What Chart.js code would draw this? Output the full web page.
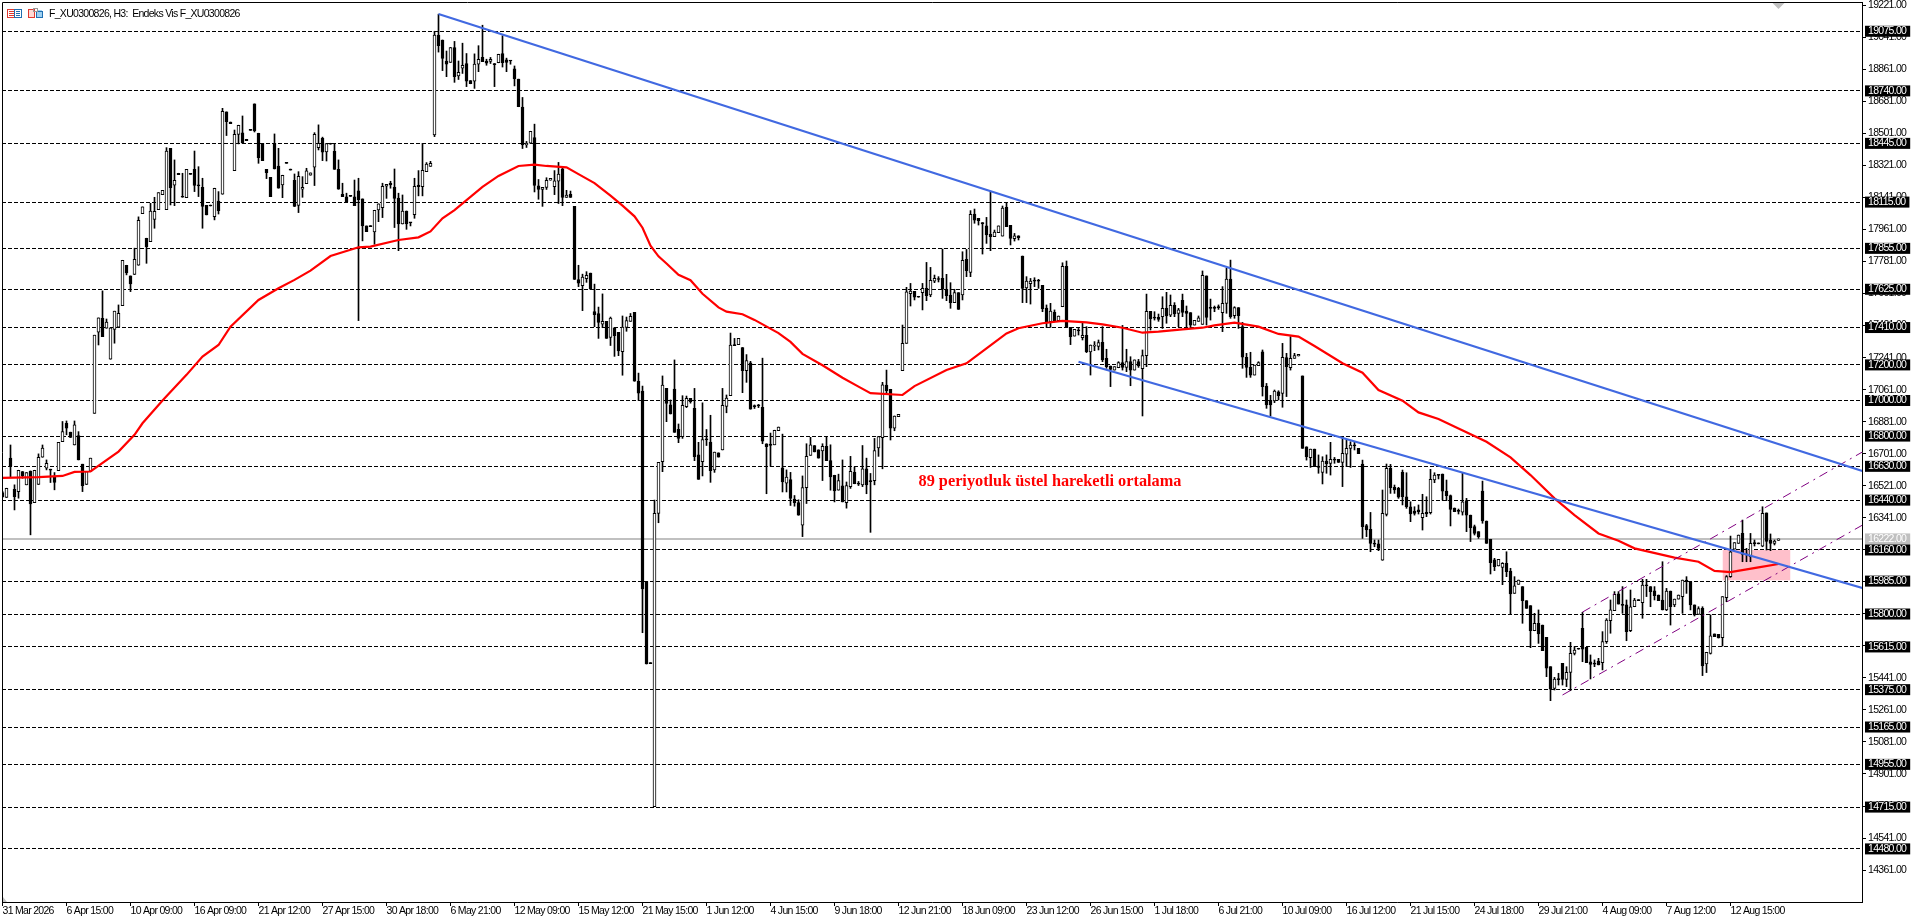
<!DOCTYPE html>
<html><head><meta charset="utf-8">
<style>html,body{margin:0;padding:0;background:#fff;overflow:hidden}canvas{display:block}</style>
<script src="https://cdn.jsdelivr.net/npm/chart.js@4/dist/chart.umd.min.js"></script>
</head><body><canvas id="c" width="1920" height="923"></canvas>
<script>
const opens=[
16483,16455,16676,16501,16488,16601,16526,16604,16426,16528,
16681,16619,16614,16573,16606,16769,16872,16822,16750,16803,
16642,16528,16601,16928,17384,17462,17406,17232,17400,17412,
17533,17760,17700,17708,17760,18050,17912,17893,18017,18073,
18157,18073,18417,18210,18277,18142,18140,18275,18299,18208,
18198,18097,18097,18033,18120,18159,18622,18565,18292,18496,
18504,18468,18522,18667,18502,18445,18299,18254,18445,18318,
18211,18337,18299,18238,18097,18187,18219,18266,18311,18421,
18474,18397,18445,18400,18299,18159,18144,18149,18144,18178,
18133,17981,17979,17947,18071,18084,18204,18221,18200,18138,
17992,18065,18000,18045,18210,18202,18286,18316,18493,19053,
19026,18908,18900,18984,18824,18868,18894,18798,18794,18890,
18928,18908,18906,18890,18898,18950,18914,18910,18864,18806,
18649,18436,18446,18478,18206,18186,18198,18238,18202,18232,
18302,18141,18159,18091,17680,17646,17684,17716,17499,17489,
17429,17445,17355,17409,17383,17274,17411,17445,17495,17108,
17053,15982,15525,14718,16366,16656,17068,16975,17064,16838,
16797,16965,17012,16956,16694,16656,16781,16767,16610,16706,
16722,16967,17027,17310,17314,17298,17168,17212,16968,16972,
16961,16757,16755,16751,16831,16622,16536,16556,16446,16426,
16299,16510,16692,16747,16723,16717,16743,16662,16580,16496,
16520,16426,16516,16596,16536,16526,16616,16546,16550,16733,
16791,17087,17063,16844,16909,17168,17321,17600,17613,17585,
17606,17630,17593,17671,17682,17686,17625,17593,17550,17606,
17593,17793,17720,18048,18024,18000,17981,17934,17921,17943,
17924,18085,17984,17909,17926,17812,17632,17657,17673,17673,
17647,17520,17443,17495,17449,17527,17754,17411,17362,17393,
17353,17366,17273,17306,17304,17327,17237,17194,17171,17184,
17213,17186,17218,17171,17218,17179,17252,17501,17465,17467,
17471,17518,17479,17535,17490,17563,17503,17494,17424,17445,
17428,17700,17520,17520,17524,17494,17546,17683,17477,17522,
17415,17243,17186,17143,17196,17273,17081,17000,16997,17048,
17040,17241,17184,17237,17250,17138,16740,16679,16727,16632,
16596,16660,16647,16667,16669,16652,16699,16731,16747,16731,
16643,16297,16276,16194,16194,16102,16360,16619,16512,16506,
16596,16459,16403,16379,16385,16341,16371,16370,16553,16581,
16587,16491,16465,16396,16379,16373,16437,16356,16291,16263,
16491,16323,16220,16104,16070,16062,16085,16042,15916,15967,
15954,15875,15847,15706,15748,15738,15669,15504,15382,15433,
15523,15433,15472,15579,15604,15720,15613,15532,15520,15536,
15527,15645,15763,15819,15913,15851,15851,15706,15841,15877,
15864,15961,15954,15931,15907,15879,15823,15929,15851,15884,
15898,15991,15980,15851,15798,15832,15519,15579,15688,15686,
15667,15892,16010,16165,16197,16253,16132,16122,16198,16198,
16182,16368,16216,16197,16214];
const highs=[
16490,16507,16750,16526,16608,16601,16595,16604,16608,16700,
16750,16666,16614,16595,16765,16882,16885,16822,16885,16825,
16642,16601,16676,17367,17464,17616,17458,17408,17502,17537,
17788,17760,17700,17856,18032,18088,17912,18108,18142,18168,
18181,18421,18417,18352,18277,18277,18299,18275,18402,18314,
18249,18097,18097,18193,18174,18642,18622,18565,18520,18547,
18599,18468,18522,18667,18502,18445,18299,18254,18498,18417,
18266,18337,18299,18273,18286,18258,18305,18279,18505,18549,
18480,18444,18445,18445,18352,18221,18165,18149,18239,18249,
18133,17981,17979,18069,18105,18221,18215,18232,18301,18165,
18155,18065,18000,18249,18292,18445,18337,18344,19075,19171,
19026,18964,18984,19018,18908,19008,18950,18798,18948,18994,
19109,18918,18928,18894,18946,19050,18924,18910,18880,18806,
18703,18456,18513,18553,18242,18198,18252,18248,18292,18338,
18312,18181,18177,18091,17760,17710,17724,17716,17654,17525,
17599,17445,17469,17409,17383,17475,17469,17489,17495,17154,
17081,15982,15525,16441,16652,17138,17068,17003,17228,16868,
17027,17025,17012,17068,16765,16987,16837,16917,16710,16706,
17068,17031,17379,17349,17349,17298,17258,17220,16975,16978,
17238,16757,16817,16833,16851,16811,16610,16596,16466,16442,
16576,16757,16793,16747,16723,16757,16797,16751,16580,16586,
16666,16542,16686,16626,16545,16747,16676,16590,16787,16797,
17102,17171,17063,16913,16922,17424,17636,17658,17613,17585,
17658,17776,17748,17705,17696,17851,17709,17662,17625,17606,
17836,17849,18067,18076,18024,18000,18029,18173,17958,17981,
18093,18112,17984,17939,17926,17812,17696,17686,17690,17681,
17647,17537,17546,17509,17475,17774,17784,17411,17400,17405,
17434,17415,17312,17331,17340,17415,17288,17194,17190,17218,
17422,17288,17246,17228,17231,17284,17598,17501,17499,17486,
17583,17608,17593,17550,17518,17598,17531,17494,17450,17475,
17728,17700,17570,17531,17537,17640,17743,17789,17527,17522,
17439,17265,17271,17199,17218,17284,17096,17029,17059,17055,
17321,17265,17359,17265,17259,17138,16740,16727,16727,16694,
16684,16694,16765,16680,16669,16797,16778,16768,16768,16731,
16665,16304,16371,16216,16216,16497,16643,16641,16525,16512,
16609,16594,16431,16403,16413,16473,16459,16613,16594,16581,
16587,16553,16469,16396,16390,16591,16450,16356,16300,16263,
16547,16323,16220,16113,16107,16089,16150,16057,16010,15991,
15954,15875,15847,15804,15823,15738,15669,15504,15444,15467,
15523,15504,15641,15617,15604,15810,15613,15570,15542,15551,
15701,15774,15879,15926,15926,15954,15879,15935,15888,15877,
15995,15995,15954,15954,15907,16094,15944,15929,15884,15907,
15991,16010,15980,15851,15841,15841,15585,15795,15688,15686,
15898,16016,16238,16201,16244,16328,16169,16253,16216,16198,
16403,16368,16250,16216,16222];
const lows=[
16455,16455,16572,16385,16451,16563,16526,16245,16426,16528,
16681,16610,16539,16498,16606,16769,16807,16792,16750,16666,
16488,16528,16601,16928,17312,17359,17406,17232,17322,17412,
17533,17706,17612,17708,17760,18050,17771,17893,17968,18073,
18157,18073,18099,18095,18269,18142,18140,18271,18174,18146,
17968,18043,18093,18015,18048,18159,18489,18556,18292,18442,
18445,18460,18518,18509,18333,18348,18247,18146,18301,18193,
18140,18333,18295,18090,18056,18142,18219,18266,18208,18408,
18348,18346,18440,18299,18187,18146,18116,18147,18095,17449,
17897,17949,17977,17878,18005,18028,18136,18193,17972,17842,
17992,17962,17981,18024,18150,18150,18286,18316,18483,18958,
18854,18820,18900,18788,18804,18838,18764,18780,18754,18848,
18904,18884,18894,18764,18898,18874,18848,18890,18768,18651,
18416,18422,18446,18172,18131,18091,18186,18238,18157,18107,
18095,18141,18141,17680,17640,17505,17664,17626,17415,17349,
17409,17349,17309,17248,17252,17142,17389,17445,17108,17001,
15695,15519,15521,14718,16313,16600,16881,16924,16821,16763,
16787,16960,16985,16662,16557,16576,16747,16540,16596,16682,
16722,16931,17027,17308,17314,17044,17102,16951,16955,16960,
16757,16476,16630,16751,16831,16486,16486,16410,16406,16355,
16235,16421,16692,16711,16676,16550,16662,16496,16430,16496,
16430,16395,16506,16532,16522,16516,16476,16259,16526,16686,
16616,17038,16778,16830,16909,17168,17321,17531,17565,17580,
17509,17561,17583,17662,17666,17574,17561,17518,17550,17512,
17565,17696,17696,17996,17986,17823,17883,17842,17921,17943,
17924,17977,17874,17896,17902,17550,17550,17542,17640,17630,
17499,17411,17411,17449,17449,17527,17411,17314,17362,17368,
17340,17269,17143,17280,17284,17218,17181,17078,17171,17184,
17171,17162,17083,17171,17186,16913,17190,17396,17452,17445,
17405,17434,17471,17471,17415,17471,17415,17409,17424,17445,
17428,17424,17452,17499,17512,17387,17490,17462,17462,17405,
17181,17130,17130,17143,17196,17025,16956,16913,16988,17003,
16962,17022,17171,17237,17250,16731,16665,16624,16628,16591,
16531,16591,16581,16647,16652,16516,16628,16624,16722,16701,
16225,16235,16150,16178,16156,16102,16351,16478,16478,16450,
16413,16394,16319,16356,16362,16272,16347,16362,16538,16559,
16441,16437,16295,16375,16362,16356,16263,16207,16244,16225,
16310,16197,16025,16044,16070,15965,16010,15798,15916,15967,
15748,15832,15611,15706,15635,15594,15448,15313,15373,15401,
15401,15392,15369,15570,15602,15532,15527,15435,15504,15514,
15486,15635,15692,15819,15856,15804,15650,15701,15841,15875,
15776,15898,15841,15879,15875,15823,15819,15738,15841,15884,
15804,15916,15823,15789,15798,15454,15471,15575,15673,15665,
15620,15869,16006,16165,16197,16094,16094,16094,16182,16194,
16178,16160,16156,16188,16214];
const closes=[
16460,16507,16632,16460,16608,16576,16595,16419,16608,16681,
16732,16647,16608,16539,16765,16825,16844,16792,16863,16666,
16522,16601,16676,17367,17464,17359,17440,17408,17502,17490,
17788,17717,17655,17794,18013,18088,17865,18065,18063,18168,
18181,18402,18196,18238,18269,18142,18299,18271,18208,18206,
18090,18043,18093,18193,18067,18625,18567,18556,18496,18547,
18449,18460,18518,18515,18365,18348,18281,18146,18301,18193,
18266,18333,18295,18090,18260,18198,18290,18279,18496,18445,
18395,18444,18440,18299,18187,18146,18116,18147,18095,18129,
17981,17949,17977,18069,18105,18204,18215,18211,18135,17992,
18065,17992,17998,18204,18202,18294,18329,18333,19053,18994,
18922,18890,18984,18820,18844,18884,18794,18780,18890,18918,
18904,18896,18918,18888,18946,18898,18900,18908,18808,18651,
18436,18446,18513,18208,18186,18198,18238,18248,18234,18272,
18141,18155,18141,17680,17660,17694,17704,17626,17483,17439,
17445,17349,17463,17365,17278,17413,17449,17473,17108,17041,
15941,15519,15521,16366,16652,17087,16984,16924,16821,16787,
16973,17012,16993,16684,16557,16781,16779,16606,16710,16682,
16973,17013,17312,17308,17349,17168,17224,16951,16966,16970,
16771,16741,16747,16833,16851,16542,16570,16450,16426,16355,
16510,16686,16751,16711,16676,16743,16662,16570,16492,16550,
16430,16522,16602,16532,16530,16616,16526,16544,16718,16797,
17088,17055,16844,16913,16922,17321,17610,17615,17580,17580,
17630,17589,17675,17686,17680,17625,17589,17550,17606,17512,
17788,17730,18046,18014,18010,17992,17930,17921,17947,17981,
18082,17977,17911,17926,17915,17630,17671,17671,17671,17671,
17516,17439,17503,17449,17475,17754,17411,17359,17400,17391,
17366,17274,17312,17312,17325,17228,17190,17175,17190,17213,
17186,17218,17171,17228,17194,17252,17501,17458,17463,17456,
17518,17475,17535,17486,17509,17495,17490,17424,17450,17465,
17703,17467,17518,17518,17522,17546,17683,17471,17522,17477,
17243,17186,17143,17199,17213,17078,16975,16975,17053,17027,
17243,17190,17237,17252,17259,16731,16684,16727,16628,16624,
16660,16643,16669,16665,16652,16703,16731,16750,16745,16701,
16291,16272,16197,16192,16169,16366,16619,16510,16497,16456,
16459,16403,16362,16366,16375,16366,16362,16557,16581,16579,
16491,16465,16388,16375,16377,16430,16356,16285,16253,16235,
16323,16197,16089,16066,16107,16085,16038,15913,15959,15991,
15875,15832,15706,15748,15688,15594,15495,15377,15435,15431,
15433,15472,15579,15598,15602,15602,15527,15517,15518,15514,
15645,15766,15823,15911,15856,15849,15701,15841,15879,15875,
15963,15959,15926,15903,15875,15823,15929,15841,15884,15907,
15991,15982,15851,15795,15830,15508,15585,15677,15673,15665,
15898,16010,16150,16201,16244,16135,16137,16197,16196,16194,
16366,16208,16197,16210,16222];

const emaIdx=[0,9,15,18,22,29,33,35,40,46,50,54,57,64,69,73,77,82,89,92,99,104,107,110,113,120,124,129,133,136,141,144,148,152,155,158,160,162,164,166,169,172,175,179,181,185,188,194,197,200,205,210,214,217,225,228,236,241,246,251,254,260,265,271,275,280,285,289,295,300,303,308,314,319,324,328,335,340,344,350,354,359,364,371,377,382,388,393,399,404,408,418,424,428,432,439,444];
const emaVal=[16565,16569,16576,16599,16601,16713,16807,16872,17000,17144,17247,17312,17415,17565,17631,17678,17730,17812,17861,17865,17902,17917,17950,18024,18070,18201,18262,18318,18326,18318,18310,18272,18222,18151,18095,18035,17971,17870,17810,17770,17706,17676,17600,17523,17499,17485,17453,17379,17329,17262,17198,17128,17078,17041,17031,17081,17171,17209,17293,17377,17406,17434,17447,17439,17428,17409,17381,17387,17400,17409,17422,17437,17415,17374,17359,17306,17209,17156,17059,16999,16933,16896,16843,16768,16680,16581,16450,16356,16253,16212,16169,16117,16094,16042,16036,16062,16081];

const levels=[19075,18740,18445,18115,17855,17625,17410,17200,17000,16800,16630,16440,16160,15985,15800,15615,15375,15165,14955,14715,14480];
const lastPrice=16222;
const axisTicks=[19221,19041,18861,18681,18501,18321,18141,17961,17781,17601,17421,17241,17061,16881,16701,16521,16341,16161,15981,15801,15621,15441,15261,15081,14901,14721,14541,14361];
const xLabels=["31 Mar 2026","6 Apr 15:00","10 Apr 09:00","16 Apr 09:00","21 Apr 12:00","27 Apr 15:00","30 Apr 18:00","6 May 21:00","12 May 09:00","15 May 12:00","21 May 15:00","1 Jun 12:00","4 Jun 15:00","9 Jun 18:00","12 Jun 21:00","18 Jun 09:00","23 Jun 12:00","26 Jun 15:00","1 Jul 18:00","6 Jul 21:00","10 Jul 09:00","16 Jul 12:00","21 Jul 15:00","24 Jul 18:00","29 Jul 21:00","4 Aug 09:00","7 Aug 12:00","12 Aug 15:00"];
const xLabelStep=16;

const trendTop=[[109,19172],[465,16604]];
const trendMid=[[269,17218],[465,15946]];
const channelUpper=[[395,15811],[465,16711]];
const channelLower=[[390,15345],[465,16300]];
const zoneIdx=[430,447], zonePrice=[16160,15990];
const noteText="89 periyotluk üstel hareketli ortalama", notePos=[229,16542];
const titleText="F_XU0300826, H3:  Endeks Vis F_XU0300826";

const AXIS_FONT='"Liberation Sans",sans-serif';
const AXIS_SIZE=10.5;
const TIGHT='-0.7px';
const levelSet=new Set(levels);
const pts=a=>a.map(p=>({x:p[0],y:p[1]}));
const line=(data,color,width,order,extra)=>Object.assign({type:'line',data,borderColor:color,borderWidth:width,pointRadius:0,tension:0,fill:false,order},extra||{});

const chromePlugin={id:'chrome',
 beforeUpdate(ch){ch.ctx.letterSpacing=TIGHT;},
 beforeDraw(ch){ch.ctx.letterSpacing=TIGHT;},
 afterDraw(ch){
  const c=ch.ctx,a=ch.chartArea,xs=ch.scales.x,ys=ch.scales.y;
  c.save();
  c.strokeStyle='#000';c.lineWidth=1;
  c.beginPath();c.moveTo(a.left+.5,a.bottom);c.lineTo(a.left+.5,a.top+.5);c.lineTo(a.right,a.top+.5);c.stroke();
  // icons
  c.lineWidth=1;
  c.strokeStyle='#e0392f';c.strokeRect(7.5,9.5,7,8);
  c.beginPath();c.moveTo(9,11.5);c.lineTo(14,11.5);c.moveTo(9,13.5);c.lineTo(14,13.5);c.moveTo(9,15.5);c.lineTo(14,15.5);c.stroke();
  c.strokeStyle='#1f6fb2';c.strokeRect(14.5,9.5,7,8);
  c.beginPath();c.moveTo(16,11.5);c.lineTo(20,11.5);c.moveTo(16,13.5);c.lineTo(20,13.5);c.moveTo(16,15.5);c.lineTo(20,15.5);c.stroke();
  c.fillStyle='#ffd9d4';c.fillRect(28,10,7,8);
  c.strokeStyle='#e0392f';c.strokeRect(28.5,9.5,6,8);
  c.fillStyle='#9fd0f0';c.fillRect(37,10,5,8);
  c.strokeStyle='#1f6fb2';c.strokeRect(36.5,11.5,6,6);
  c.strokeStyle='#999';c.strokeRect(33.5,8.5,4,3);
  // title
  c.fillStyle='#000';c.font=AXIS_SIZE+'px "Liberation Sans",sans-serif';c.textBaseline='middle';c.textAlign='left';
  c.fillText(titleText,49,14);
  // note
  c.letterSpacing='0px';
  c.fillStyle='#ff0000';c.font='bold 16.3px "Liberation Serif",serif';
  c.fillText(noteText,xs.getPixelForValue(notePos[0]),ys.getPixelForValue(notePos[1]));
  // last-bar marker and corner marker
  c.fillStyle='#c0c0c0';
  const mx=xs.getPixelForValue(opens.length-1);
  c.beginPath();c.moveTo(mx-6,3);c.lineTo(mx+6,3);c.lineTo(mx,9);c.closePath();c.fill();
  c.beginPath();c.moveTo(a.left+1,a.bottom-5);c.lineTo(a.left+5,a.bottom);c.lineTo(a.left+1,a.bottom);c.closePath();c.fill();
  c.restore();
 }};

new Chart(document.getElementById('c'),{
 type:'bar',
 plugins:[chromePlugin],
 data:{datasets:[
  line(zoneIdx.map(i=>({x:i,y:zonePrice[0]})),'rgba(0,0,0,0)',0,60,{fill:{value:zonePrice[1]},backgroundColor:'rgb(255,192,203)'}),
  {type:'bar',order:50,grouped:false,barThickness:1,minBarLength:1,data:highs.map((h,i)=>({x:i,y:[lows[i],h]})),backgroundColor:'#000',borderWidth:0},
  {type:'bar',order:40,grouped:false,barThickness:3,minBarLength:1,data:opens.map((o,i)=>({x:i,y:[o,closes[i]]})),
   backgroundColor:opens.map((o,i)=>closes[i]>o?'#fff':'#000'),borderColor:'#000',borderWidth:1,borderSkipped:false},
  line(emaIdx.map((k,i)=>({x:k,y:emaVal[i]})),'#ff0000',2.2,30),
  line(pts(channelUpper),'#800080',1,20,{borderDash:[9,5,2,5]}),
  line(pts(channelLower),'#800080',1,20,{borderDash:[9,5,2,5]}),
  line(pts(trendTop),'#4169e1',2.2,10),
  line(pts(trendMid),'#4169e1',2.2,10)
 ]},
 options:{
  responsive:false,devicePixelRatio:1,animation:false,
  layout:{padding:{left:2,top:2,right:0,bottom:0}},
  plugins:{legend:{display:false},title:{display:false},tooltip:{enabled:false}},
  events:[],
  scales:{
   x:{type:'linear',position:'bottom',offset:false,min:-0.125,max:464.875,
    grid:{offset:false,drawOnChartArea:false,drawTicks:true,tickLength:4,tickColor:'#000'},
    border:{color:'#000',width:1},
    ticks:{align:'start',autoSkip:false,maxRotation:0,minRotation:0,padding:0,color:'#000',
     font:{family:AXIS_FONT,size:AXIS_SIZE,lineHeight:'11px'},
     callback:v=>xLabels[v/xLabelStep]},
    afterBuildTicks(s){s.ticks=xLabels.map((_,i)=>({value:i*xLabelStep}));},
    afterFit(s){s.height=21;s.paddingLeft=0;s.paddingRight=0;}
   },
   y:{type:'linear',position:'right',min:14181.6,max:19239.5,
    grid:{drawTicks:true,tickLength:4,lineWidth:c=>c.tick.value===lastPrice?2:1,
     color:c=>levelSet.has(c.tick.value)?'#000':(c.tick.value===lastPrice?'#c0c0c0':'rgba(0,0,0,0)'),
     tickColor:c=>(levelSet.has(c.tick.value)||c.tick.value===lastPrice)?'rgba(0,0,0,0)':'#000',
     tickBorderDash:[]},
    border:{color:'#000',width:1,dash:c=>(c.tick&&c.tick.value===lastPrice)?[]:[4,2]},
    ticks:{autoSkip:false,padding:2,showLabelBackdrop:true,
     backdropPadding:{top:0,bottom:0,left:3,right:4},
     backdropColor:c=>levelSet.has(c.tick.value)?'#000':(c.tick.value===lastPrice?'#c0c0c0':'rgba(0,0,0,0)'),
     color:c=>(levelSet.has(c.tick.value)||c.tick.value===lastPrice)?'#fff':'#000',
     font:{family:AXIS_FONT,size:AXIS_SIZE,lineHeight:'11px'},
     callback:v=>v.toFixed(2)},
    afterBuildTicks(s){s.ticks=axisTicks.concat([lastPrice],levels).map(v=>({value:v}));},
    afterFit(s){s.width=58;s.paddingTop=0;s.paddingBottom=0;}
   }
  }
 }
});
</script></body></html>
